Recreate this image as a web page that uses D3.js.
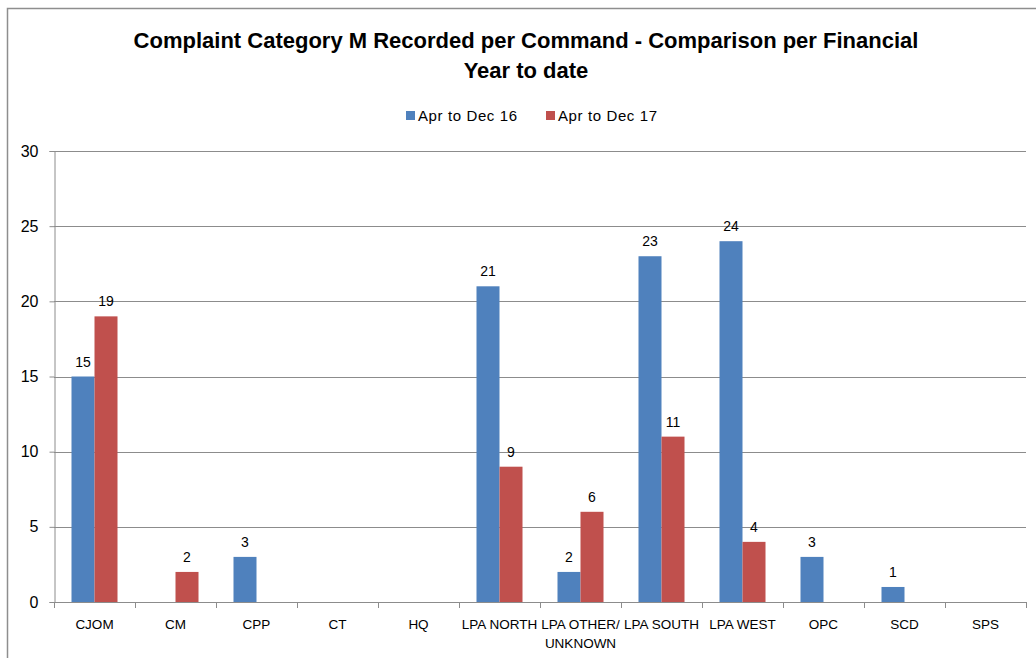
<!DOCTYPE html>
<html lang="en">
<head>
  <meta charset="UTF-8">
  <title>Complaint Category M Recorded per Command</title>
  <script src="https://d3js.org/d3.v7.min.js"></script>
</head>
<body style="margin: 0; padding: 0; overflow: hidden; background: #fff;">
  <svg id="chart"></svg>

  <script>
    // data
    const categories = ["CJOM", "CM", "CPP", "CT", "HQ", "LPA NORTH", "LPA OTHER/ UNKNOWN",
                        "LPA SOUTH", "LPA WEST", "OPC", "SCD", "SPS"];
    const seriesNames = ["Apr to Dec 16", "Apr to Dec 17"];
    const dec16 = [15, 0, 3, 0, 0, 21, 2, 23, 24, 3, 1, 0];
    const dec17 = [19, 2, 0, 0, 0, 9, 6, 11, 4, 0, 0, 0];
    const yTicks = [0, 5, 10, 15, 20, 25, 30];
    const colors = ["#4f81bd", "#c0504d"];

    const width = 1036, height = 658;
    const font = "'Liberation Sans', Arial, sans-serif";

    const svg = d3.select("#chart")
      .attr("width", width)
      .attr("height", height)
      .style("font-family", font);

    // chart frame (runs off right/bottom edge like the screenshot)
    svg.append("rect")
      .attr("x", 7.5).attr("y", 8.5)
      .attr("width", 1100).attr("height", 700)
      .attr("fill", "none")
      .attr("stroke", "#8e8e8e")
      .attr("stroke-width", 1.5);

    const plot = { left: 54, right: 1026, top: 151, bottom: 602 };

    const x = d3.scaleBand()
      .domain(categories)
      .range([plot.left, plot.right])
      .paddingInner(0.432)
      .paddingOuter(0.216);

    const x1 = d3.scaleBand()
      .domain(seriesNames)
      .range([0, x.bandwidth()]);

    const y = d3.scaleLinear()
      .domain([0, 30])
      .range([plot.bottom, plot.top]);

    // gridlines
    svg.append("g")
      .selectAll("line")
      .data(yTicks.filter(t => t > 0))
      .enter()
      .append("line")
      .attr("x1", plot.left)
      .attr("x2", plot.right)
      .attr("y1", d => Math.round(y(d)) + 0.5)
      .attr("y2", d => Math.round(y(d)) + 0.5)
      .attr("stroke", "#8c8c8c")
      .attr("stroke-width", 1);

    // y axis
    const yAxis = svg.append("g")
      .attr("transform", `translate(${plot.left + 0.5},0)`)
      .call(d3.axisLeft(y).tickValues(yTicks).tickSize(5).tickPadding(11));
    yAxis.select(".domain").attr("stroke", "#8c8c8c");
    yAxis.selectAll(".tick line").attr("stroke", "#8c8c8c");
    yAxis.selectAll(".tick text")
      .attr("font-size", 16)
      .attr("font-family", font)
      .attr("fill", "#000");

    // bars
    const rows = categories.map((c, i) => ({ cat: c, vals: [dec16[i], dec17[i]] }));

    const groups = svg.append("g")
      .selectAll("g")
      .data(rows)
      .enter()
      .append("g")
      .attr("transform", d => `translate(${x(d.cat)},0)`);

    groups.selectAll("rect")
      .data(d => d.vals.map((v, k) => ({ name: seriesNames[k], v: v, k: k })).filter(e => e.v > 0))
      .enter()
      .append("rect")
      .attr("x", d => x1(d.name))
      .attr("y", d => y(d.v))
      .attr("width", x1.bandwidth())
      .attr("height", d => y(0) - y(d.v))
      .attr("fill", d => colors[d.k]);

    // value labels
    groups.selectAll("text")
      .data(d => d.vals.map((v, k) => ({ name: seriesNames[k], v: v })).filter(e => e.v > 0))
      .enter()
      .append("text")
      .attr("x", d => x1(d.name) + x1.bandwidth() / 2)
      .attr("y", d => y(d.v) - 10)
      .attr("text-anchor", "middle")
      .attr("font-size", 14)
      .attr("fill", "#000")
      .text(d => d.v);

    // x axis line
    svg.append("line")
      .attr("x1", plot.left).attr("x2", plot.right)
      .attr("y1", plot.bottom + 0.5).attr("y2", plot.bottom + 0.5)
      .attr("stroke", "#8c8c8c");

    // category boundary ticks
    const half = (x.step() - x.bandwidth()) / 2;
    const bounds = categories.map(c => x(c) - half).concat([x(categories[categories.length - 1]) + x.bandwidth() + half]);
    svg.append("g")
      .selectAll("line")
      .data(bounds)
      .enter()
      .append("line")
      .attr("x1", d => Math.round(d) + 0.5)
      .attr("x2", d => Math.round(d) + 0.5)
      .attr("y1", plot.bottom)
      .attr("y2", plot.bottom + 6)
      .attr("stroke", "#8c8c8c");

    // category labels (wrap "LPA OTHER/ UNKNOWN")
    const xLabels = svg.append("g")
      .selectAll("text")
      .data(categories)
      .enter()
      .append("text")
      .attr("x", d => x(d) + x.bandwidth() / 2)
      .attr("y", 629)
      .attr("text-anchor", "middle")
      .attr("font-size", 13.5)
      .attr("fill", "#000");
    xLabels.each(function(d) {
      const parts = d.split("/ ");
      const t = d3.select(this);
      parts.forEach((p, i) => {
        t.append("tspan")
          .attr("x", x(d) + x.bandwidth() / 2)
          .attr("dy", i === 0 ? 0 : 19)
          .text(i < parts.length - 1 ? p + "/" : p);
      });
    });

    // title
    svg.append("text")
      .attr("x", 526).attr("y", 48)
      .attr("text-anchor", "middle")
      .attr("font-size", 22)
      .attr("font-weight", "bold")
      .attr("fill", "#000")
      .text("Complaint Category M Recorded per Command - Comparison per Financial");
    svg.append("text")
      .attr("x", 526).attr("y", 78)
      .attr("text-anchor", "middle")
      .attr("font-size", 22)
      .attr("font-weight", "bold")
      .attr("fill", "#000")
      .text("Year to date");

    // legend
    const legendX = [406, 546];
    const legend = svg.append("g")
      .selectAll("g")
      .data(seriesNames)
      .enter()
      .append("g")
      .attr("transform", (d, i) => `translate(${legendX[i]},111)`);
    legend.append("rect")
      .attr("width", 9).attr("height", 9)
      .attr("fill", (d, i) => colors[i]);
    legend.append("text")
      .attr("x", 12).attr("y", 10)
      .attr("font-size", 15)
      .attr("textLength", 99)
      .attr("lengthAdjust", "spacing")
      .attr("fill", "#000")
      .text(d => d);
  </script>
</body>
</html>
